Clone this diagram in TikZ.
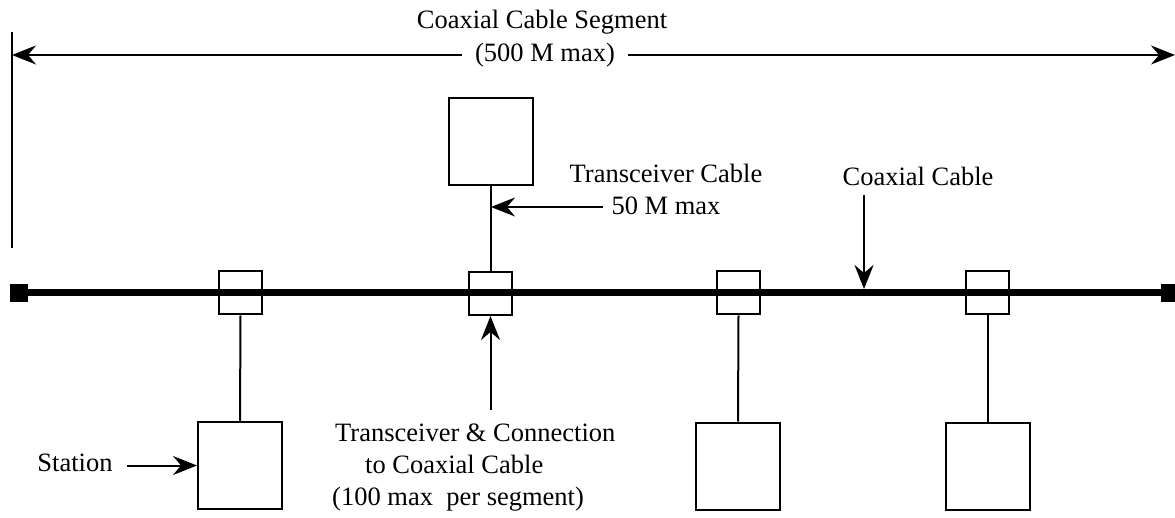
\documentclass[tikz,border=0pt]{standalone}
\usepackage{fontspec}
\setmainfont{Liberation Serif}
\usetikzlibrary{arrows.meta}
\begin{document}
\begin{tikzpicture}[x=1pt,y=-1pt,
  wire/.style={line width=2pt},
  coax/.style={line width=7pt},
  xcvr/.style={draw, line width=2pt, minimum width=43pt, minimum height=43pt, inner sep=0pt},
  station/.style={draw, line width=2pt, minimum width=84pt, minimum height=87pt, inner sep=0pt},
  term/.style={fill=black, minimum size=18pt, inner sep=0pt},
  lbl/.style={font=\fontsize{26.5}{32}\selectfont, inner sep=0pt},
  arr/.style={line width=2pt, -{Stealth[length=24pt,width=19pt,inset=8pt]}}]
\useasboundingbox (0,0) rectangle (1175,518);

% dimension
\coordinate (tickTop) at (12,32);
\coordinate (tickBot) at (12,248);
\coordinate (segL) at (12,55);
\coordinate (segR) at (1175,55);
\draw[wire] (tickTop) -- (tickBot);
\node[lbl] (segtitle) at (542,22) {Coaxial Cable Segment};
\node[lbl, inner xsep=13pt] (segmax) at (545,55) {(500 M max)};
\draw[arr] (segmax.west) -- (segL);
\draw[arr] (segmax.east) -- (segR);

% coax cable
\node[term] (termL) at (19,293) {};
\node[term] (termR) at (1170,293) {};
\draw[coax] (termL) -- (termR);

% transceivers
\node[xcvr] (x1) at (240.5,293) {};
\node[xcvr] (x2) at (490.5,293.5) {};
\node[xcvr] (x3) at (738.5,293) {};
\node[xcvr] (x4) at (987.5,293) {};

% stations
\node[station] (top) at (490.5,142) {};
\node[station] (s1) at (240,465.5) {};
\node[station] (s3) at (738,466) {};
\node[station] (s4) at (987.5,466) {};

\draw[wire] (x1.south) -- (s1.north);
\draw[wire] (x3.south) -- (s3.north);
\draw[wire] (x4.south) -- (s4.north);
\draw[wire] (x2.north) -- (top.south);

% transceiver cable label
\node[lbl, align=center] (tcl) at (666,189) {Transceiver Cable\\50 M max};
\coordinate (tcA) at (603,207);
\coordinate (tcB) at (491,207);
\draw[arr] (tcA) -- (tcB);

% coaxial cable label
\node[lbl] (ccl) at (918,176) {Coaxial Cable};
\coordinate (ccA) at (864,195);
\coordinate (ccB) at (864,289);
\draw[arr] (ccA) -- (ccB);

% transceiver & connection label
\node[lbl, align=left, anchor=west] (tconn) at (332,468)
  {\hspace*{3pt}Transceiver \& Connection\\
   \hspace*{33pt}to Coaxial Cable\\
   (100 max\ \ per segment)};
\coordinate (tcU) at (490.5,410);
\draw[arr] (tcU) -- (x2.south);

% station label
\node[lbl] (stl) at (75,463) {Station};
\coordinate (stA) at (127,465.5);
\draw[arr] (stA) -- (s1.west);
\end{tikzpicture}
\end{document}
